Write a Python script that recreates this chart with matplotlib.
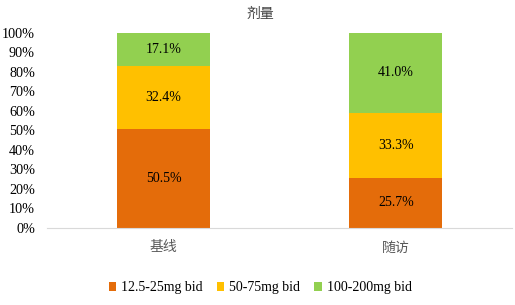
import matplotlib
matplotlib.use("Agg")
import matplotlib.pyplot as plt
from matplotlib.ticker import PercentFormatter

categories = ["基线", "随访"]
series_names = ["12.5-25mg bid", "50-75mg bid", "100-200mg bid"]
low = [50.5, 25.7]
mid = [32.4, 33.3]
high = [17.1, 41.0]
colors = ["#E46C0A", "#FFC000", "#92D050"]

serif = ["Liberation Serif", "Noto Sans CJK SC"]
cjk = ["Noto Sans CJK SC", "DejaVu Sans"]

fig = plt.figure(figsize=(5.15, 3.05), dpi=100)
ax = fig.add_axes([0.092, 0.2525, 0.902, 0.6395])

x = list(range(len(categories)))
bottom = [0.0] * len(categories)
for vals, name, c in zip([low, mid, high], series_names, colors):
    ax.bar(x, vals, width=0.4, bottom=bottom, color=c, label=name, zorder=2)
    for xi, b, v in zip(x, bottom, vals):
        ax.text(xi, b + v / 2, f"{v:.1f}%", ha="center", va="center",
                fontsize=10, family=serif, color="black")
    bottom = [b + v for b, v in zip(bottom, vals)]

ax.set_xlim(-0.5, 1.5)
ax.set_ylim(0, 100)
ax.set_yticks(range(0, 101, 10))
ax.yaxis.set_major_formatter(PercentFormatter(decimals=0))
for lab in ax.get_yticklabels():
    lab.set_family(serif)
    lab.set_fontsize(10.2)
    lab.set_color("black")
ax.set_xticks(x)
ax.set_xticklabels(categories, family=cjk, fontsize=10, color="#595959")
ax.tick_params(axis="both", length=0)
ax.tick_params(axis="x", pad=9)
ax.tick_params(axis="y", pad=9)
for s in ["top", "right", "left"]:
    ax.spines[s].set_visible(False)
ax.spines["bottom"].set_color("#D9D9D9")

fig.text(0.505, 1 - 14 / 305, "剂量", ha="center", va="center",
         family=cjk, fontsize=10, color="#404040")

fig.legend(loc="center", bbox_to_anchor=(0.505, 1 - 288 / 305),
           ncol=3, frameon=False, prop={"family": serif, "size": 10},
           handlelength=0.55, handleheight=0.55, handletextpad=0.35, columnspacing=1.0)

fig.savefig("out.png", dpi=100)
